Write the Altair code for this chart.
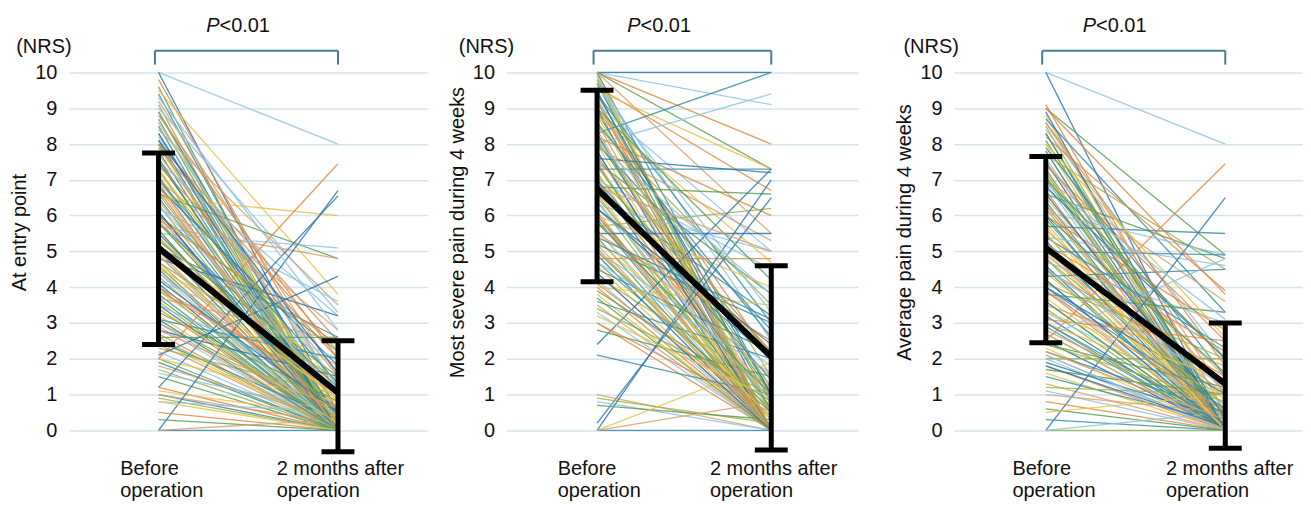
import altair as alt
import pandas as pd

# ---------------- data ----------------
x_label_lines = [["Before", "operation"], ["2 months after", "operation"]]
y_titles = ["At entry point", "Most severe pain during 4 weeks", "Average pain during 4 weeks"]
y_ticks = [0, 1, 2, 3, 4, 5, 6, 7, 8, 9, 10]
p_label = ["P", "<0.01"]
unit_label = "(NRS)"

entry_before = [10, 10, 9.8, 9.6, 9.5, 9.4, 9.2, 9.1, 9.0, 8.9, 8.8, 8.7, 8.6, 8.5, 8.4, 8.3, 8.2, 8.1,
                8.0, 8.0, 7.9, 7.8, 7.7, 7.6, 7.5, 7.5, 7.4, 7.3, 7.2, 7.1, 7.0, 7.0, 6.9, 6.8, 6.7, 6.6,
                6.5, 6.5, 6.4, 6.3, 6.2, 6.1, 6.0, 6.0, 5.9, 5.8, 5.7, 5.6, 5.5, 5.5, 5.4, 5.3, 5.2, 5.1,
                5.0, 5.0, 4.9, 4.8, 4.7, 4.6, 4.5, 4.5, 4.4, 4.3, 4.2, 4.1, 4.0, 4.0, 3.9, 3.8, 3.7, 3.6,
                3.5, 3.5, 3.4, 3.3, 3.2, 3.1, 3.0, 3.0, 2.9, 2.8, 2.7, 2.6, 2.5, 2.5, 2.4, 2.3, 2.2, 2.1,
                2.0, 2.0, 2.0, 1.9, 1.8, 1.7, 1.6, 1.2, 1.2, 1.5, 1.1, 1.0, 1.0, 0.9, 0.8, 0.0, 0.5, 0.3,
                0.8, 0.0, 0.0,
                8.9, 8.6, 8.3, 7.9, 7.6, 7.3, 7.0, 6.8, 6.6, 6.3, 6.1, 5.9, 5.6, 5.4, 5.2, 4.9, 4.7, 4.4,
                4.2, 3.9, 3.7, 3.4, 3.1, 2.8, 2.6, 9.3, 8.1, 6.9, 5.8, 4.6]
entry_after = [8.0, 0.5, 1.0, 0.0, 3.8, 0.2, 1.5, 0.0, 3.3, 0.5, 2.0, 0.0, 1.0, 0.0, 3.5, 0.3, 1.2, 0.0,
               2.5, 0.0, 0.8, 0.0, 1.5, 0.0, 3.2, 0.4, 2.0, 0.0, 1.0, 0.0, 2.8, 0.5, 0.0, 1.8, 0.0, 4.8,
               6.0, 0.0, 1.0, 0.0, 3.6, 0.2, 0.0, 2.2, 0.0, 1.2, 4.8, 0.0, 5.1, 0.5, 0.0, 1.5, 0.0, 2.6,
               0.0, 1.0, 0.0, 3.2, 0.3, 0.0, 1.8, 0.0, 0.6, 0.0, 2.0, 0.0, 1.0, 0.0, 0.4, 0.0, 2.5, 0.0,
               1.2, 0.0, 0.0, 0.8, 0.0, 2.0, 0.0, 0.5, 0.0, 1.5, 0.0, 2.6, 0.0, 0.3, 0.0, 1.0, 0.0, 4.3,
               7.45, 0.0, 0.8, 0.0, 0.3, 0.0, 0.5, 6.55, 0.0, 0.0, 0.4, 0.0, 0.2, 0.0, 0.5, 6.7, 0.0, 0.0,
               0.0, 0.0, 0.3,
               0.0, 1.2, 0.0, 2.2, 0.0, 0.6, 1.3, 0.0, 0.2, 1.0, 0.0, 2.4, 0.0, 0.8, 0.0, 0.3, 1.4, 0.0,
               0.5, 1.1, 0.0, 0.2, 0.0, 0.6, 0.0, 2.8, 1.6, 0.0, 0.4, 0.9]

severe_before = [10, 10, 10, 10, 10, 10, 10, 9.9, 9.8, 9.7, 9.6, 9.5, 9.5, 9.4, 9.3, 9.2, 9.1, 9.0,
                 9.0, 8.9, 8.8, 8.3, 8.6, 8.5, 8.0, 8.3, 8.2, 8.1, 8.0, 8.0, 7.9, 7.8, 7.7, 7.6, 7.5, 7.5,
                 7.4, 7.3, 7.2, 7.1, 7.0, 7.0, 6.9, 6.8, 6.7, 6.6, 6.5, 6.4, 6.3, 6.2, 6.1, 6.0, 6.0, 5.9,
                 5.8, 5.7, 5.6, 5.5, 5.5, 5.4, 5.3, 5.2, 5.1, 5.0, 5.0, 4.9, 4.8, 4.7, 4.6, 4.5, 4.4, 4.3,
                 4.2, 2.4, 4.0, 3.9, 3.8, 3.6, 3.5, 3.4, 3.3, 0.2, 3.0, 2.8, 4.0, 2.1, 1.0, 0.9, 0.8, 0.0,
                 3.0, 0.7, 0.0, 0.0, 0.0,
                 9.8, 9.6, 9.4, 9.2, 9.0, 8.8, 8.6, 8.4, 8.2, 8.0, 7.8, 7.6, 7.4, 7.2, 7.0, 6.8, 6.6, 6.4,
                 6.2, 6.0, 5.8, 5.6, 5.4, 5.2, 5.0, 4.7, 4.4, 4.1, 3.7, 3.2]
severe_after = [9.1, 10.0, 8.0, 7.3, 0.0, 1.0, 5.5, 0.0, 2.5, 0.5, 6.7, 0.0, 7.3, 3.0, 0.0, 1.5, 5.0, 0.0,
                2.0, 0.8, 4.7, 10.0, 0.0, 3.5, 9.4, 0.0, 6.0, 1.0, 0.0, 2.8, 5.3, 0.0, 0.5, 7.2, 0.0, 3.8,
                1.2, 7.3, 0.0, 2.2, 4.5, 0.0, 0.8, 6.6, 0.0, 3.2, 1.0, 0.0, 5.0, 2.0, 0.0, 0.5, 4.0, 0.0,
                1.5, 6.2, 0.0, 5.5, 2.5, 0.0, 1.0, 3.0, 0.0, 0.3, 1.8, 0.0, 4.8, 0.5, 0.0, 2.2, 0.0, 1.2,
                0.0, 7.3, 0.0, 0.8, 0.0, 2.0, 0.0, 1.0, 0.0, 6.5, 0.0, 1.5, 3.5, 1.0, 0.0, 0.2, 0.0, 7.0,
                0.5, 0.3, 1.9, 0.0, 0.8,
                0.0, 3.3, 1.0, 0.0, 4.2, 0.5, 2.6, 0.0, 1.2, 3.8, 0.0, 2.2, 0.6, 0.0, 1.4, 5.0, 0.0, 0.8,
                2.4, 0.0, 1.0, 0.3, 3.1, 0.0, 0.6, 1.6, 0.0, 0.4, 0.0, 0.9]

average_before = [10, 10, 9.1, 9.0, 8.8, 8.7, 8.6, 8.5, 8.4, 8.3, 8.2, 8.1, 8.0, 7.9, 7.8, 7.7, 7.6, 7.5,
                  7.4, 7.3, 7.2, 7.1, 7.0, 7.0, 6.9, 6.8, 6.7, 6.6, 6.5, 6.4, 6.3, 6.2, 6.1, 6.0, 6.0, 5.9,
                  5.8, 5.7, 5.6, 5.5, 5.4, 5.3, 5.2, 5.1, 5.0, 5.0, 4.9, 4.8, 4.7, 4.6, 4.5, 4.5, 4.4, 4.3,
                  4.2, 4.1, 4.0, 4.0, 3.9, 3.8, 3.7, 3.6, 3.5, 3.4, 3.3, 3.2, 3.1, 3.0, 3.0, 2.9, 2.8, 2.7,
                  2.6, 2.5, 2.5, 2.4, 2.3, 2.2, 2.1, 2.0, 2.0, 1.9, 1.8, 1.7, 1.6, 1.5, 1.3, 1.2, 1.1, 0.0,
                  0.8, 0.6, 0.5, 0.3, 1.0, 0.0, 0.0,
                  8.9, 8.6, 8.3, 8.0, 7.8, 7.5, 7.2, 6.9, 6.6, 6.3, 6.0, 5.7, 5.4, 5.1, 4.8, 4.5, 4.2, 3.9,
                  3.6, 3.3, 3.0, 2.7, 2.4, 2.1, 1.8, 9.0, 7.0, 5.5, 4.0, 2.2]
average_after = [8.0, 0.0, 0.5, 4.9, 0.0, 3.3, 1.0, 0.0, 2.0, 0.0, 3.9, 0.3, 0.0, 1.5, 0.0, 4.5, 0.5, 0.0,
                 2.5, 0.0, 1.0, 0.0, 3.6, 0.2, 0.0, 2.0, 0.0, 4.8, 0.8, 0.0, 1.5, 0.0, 4.9, 0.0, 2.8, 0.3,
                 0.0, 5.5, 1.2, 0.0, 4.6, 0.0, 2.2, 0.5, 0.0, 4.9, 1.0, 0.0, 3.0, 0.0, 1.5, 0.0, 0.5, 4.5,
                 0.0, 2.0, 0.0, 1.0, 0.0, 3.3, 0.2, 0.0, 1.8, 0.0, 0.6, 0.0, 2.5, 0.0, 1.0, 0.0, 0.4, 0.0,
                 4.8, 0.0, 7.45, 1.2, 0.0, 0.5, 0.0, 2.0, 0.0, 0.3, 0.0, 1.0, 0.0, 0.2, 0.0, 1.0, 0.0, 6.5,
                 0.0, 0.0, 1.0, 0.0, 0.5, 0.0, 0.5,
                 0.0, 1.8, 0.3, 2.6, 0.0, 1.0, 0.0, 3.1, 0.4, 0.0, 1.6, 0.0, 2.3, 0.0, 0.7, 1.2, 0.0, 0.5,
                 0.0, 1.4, 0.2, 0.0, 0.8, 0.0, 0.1, 3.8, 2.0, 0.0, 0.6, 0.3]

mean_before = [5.1, 6.75, 5.1]
mean_after = [1.05, 2.05, 1.3]
sd_low_before = [2.4, 4.15, 2.45]
sd_high_before = [7.75, 9.5, 7.65]
sd_low_after = [-0.6, -0.55, -0.5]
sd_high_after = [2.5, 4.6, 3.0]

# ---------------- styling ----------------
FONT = "Liberation Sans"
FS = 20
palette = ["#8fc3e2", "#2a74b0", "#e08a45", "#5e9e55", "#e8c24a", "#3b8ea6", "#d9a070", "#9fb04a"]
YDOM = [-0.7, 11.78]
H = 448

label_expr = "datum.value < 0.5 ? ['{}', '{}'] : ['{}', '{}']".format(
    x_label_lines[0][0], x_label_lines[0][1], x_label_lines[1][0], x_label_lines[1][1])


def panel(k, before, after, width, xdom, off_before, off_after, p_x, nrs_dx):
    rows = []
    for i, (b, a) in enumerate(zip(before, after)):
        c = "c%d" % (i % len(palette))
        rows.append({"id": i, "t": 0, "v": b, "c": c})
        rows.append({"id": i, "t": 1, "v": a, "c": c})
    lines = pd.DataFrame(rows)

    xenc = alt.X("t:Q", scale=alt.Scale(domain=xdom, nice=False, zero=False),
                 axis=alt.Axis(values=[0, 1], grid=False, domain=False, ticks=False,
                               labelExpr=label_expr, labelAlign="left", labelFlush=False,
                               labelOffset={"condition": {"test": "datum.value < 0.5", "value": off_before},
                                            "value": off_after},
                               labelPadding=3, labelLineHeight=22, labelFontSize=FS,
                               labelFont=FONT, labelColor="#111111", labelOverlap=False),
                 title=None)
    yenc = alt.Y("v:Q", scale=alt.Scale(domain=YDOM, nice=False, zero=False),
                 axis=alt.Axis(values=y_ticks, grid=True, gridColor="#d3e4ee", gridWidth=1.5,
                               domain=False, ticks=False, labelPadding=12, labelFontSize=FS,
                               labelFont=FONT, labelColor="#111111", titlePadding=5,
                               titleFont=FONT, titleFontSize=FS, titleFontWeight="normal",
                               titleColor="#111111"),
                 title=y_titles[k])

    spaghetti = alt.Chart(lines).mark_line(strokeWidth=1.3, opacity=0.85).encode(
        x=xenc, y=yenc, detail="id:N",
        color=alt.Color("c:N", scale=alt.Scale(domain=["c%d" % j for j in range(len(palette))],
                                               range=palette), legend=None))

    mean_df = pd.DataFrame({"t": [0, 1], "v": [mean_before[k], mean_after[k]]})
    mean_line = alt.Chart(mean_df).mark_line(color="black", strokeWidth=6).encode(x=xenc, y=yenc)

    err_df = pd.DataFrame({"t": [0, 1], "v": [sd_low_before[k], sd_low_after[k]],
                           "v2": [sd_high_before[k], sd_high_after[k]]})
    err = alt.Chart(err_df).mark_rule(color="black", strokeWidth=5).encode(x=xenc, y=yenc, y2="v2:Q")
    caps_df = pd.DataFrame({"t": [0, 0, 1, 1],
                            "v": [sd_low_before[k], sd_high_before[k], sd_low_after[k], sd_high_after[k]]})
    caps = alt.Chart(caps_df).mark_tick(orient="horizontal", size=33, thickness=5,
                                        color="black", opacity=1).encode(x=xenc, y=yenc)

    br_df = pd.DataFrame({"t": [-0.02, -0.02, 1.0], "t2": [1.0, -0.02, 1.0],
                          "v": [10.61, 10.61, 10.61], "v2": [10.61, 10.22, 10.22]})
    bracket = alt.Chart(br_df).mark_rule(color="#4a7b8a", strokeWidth=2).encode(
        x=xenc, x2="t2:Q", y=yenc, y2="v2:Q")

    p_df = pd.DataFrame({"t": [p_x], "v": [11.31]})
    p1 = alt.Chart(p_df).mark_text(text=p_label[0], font=FONT, fontSize=FS, fontStyle="italic",
                                   align="right", baseline="middle", color="#111111").encode(x=xenc, y=yenc)
    p2 = alt.Chart(p_df).mark_text(text=p_label[1], font=FONT, fontSize=FS,
                                   align="left", baseline="middle", color="#111111").encode(x=xenc, y=yenc)

    nrs_df = pd.DataFrame({"v": [10.72]})
    nrs = alt.Chart(nrs_df).mark_text(text=unit_label, font=FONT, fontSize=FS, align="center",
                                      baseline="middle", color="#111111").encode(
        x=alt.value(nrs_dx), y=yenc)

    return alt.layer(spaghetti, mean_line, err, caps, bracket, p1, p2, nrs).properties(
        width=width, height=H)


c1 = panel(0, entry_before, entry_after, 360, [-0.5, 1.5], -39, -62, 0.34, -25)
c2 = panel(1, severe_before, severe_after, 353, [-0.52, 1.5], -40, -62, 0.25, -20)
c3 = panel(2, average_before, average_after, 350, [-0.511, 1.433], -34, -60, 0.28, -23)

inner = alt.hconcat(c1, c2, spacing=19)
chart = alt.hconcat(inner, c3, spacing=36).properties(
    padding={"left": 1, "top": 0, "right": 0, "bottom": 0}
).configure(background="white").configure_view(strokeWidth=0)

chart.save("out.html", embed_options={"renderer": "svg", "actions": False})
